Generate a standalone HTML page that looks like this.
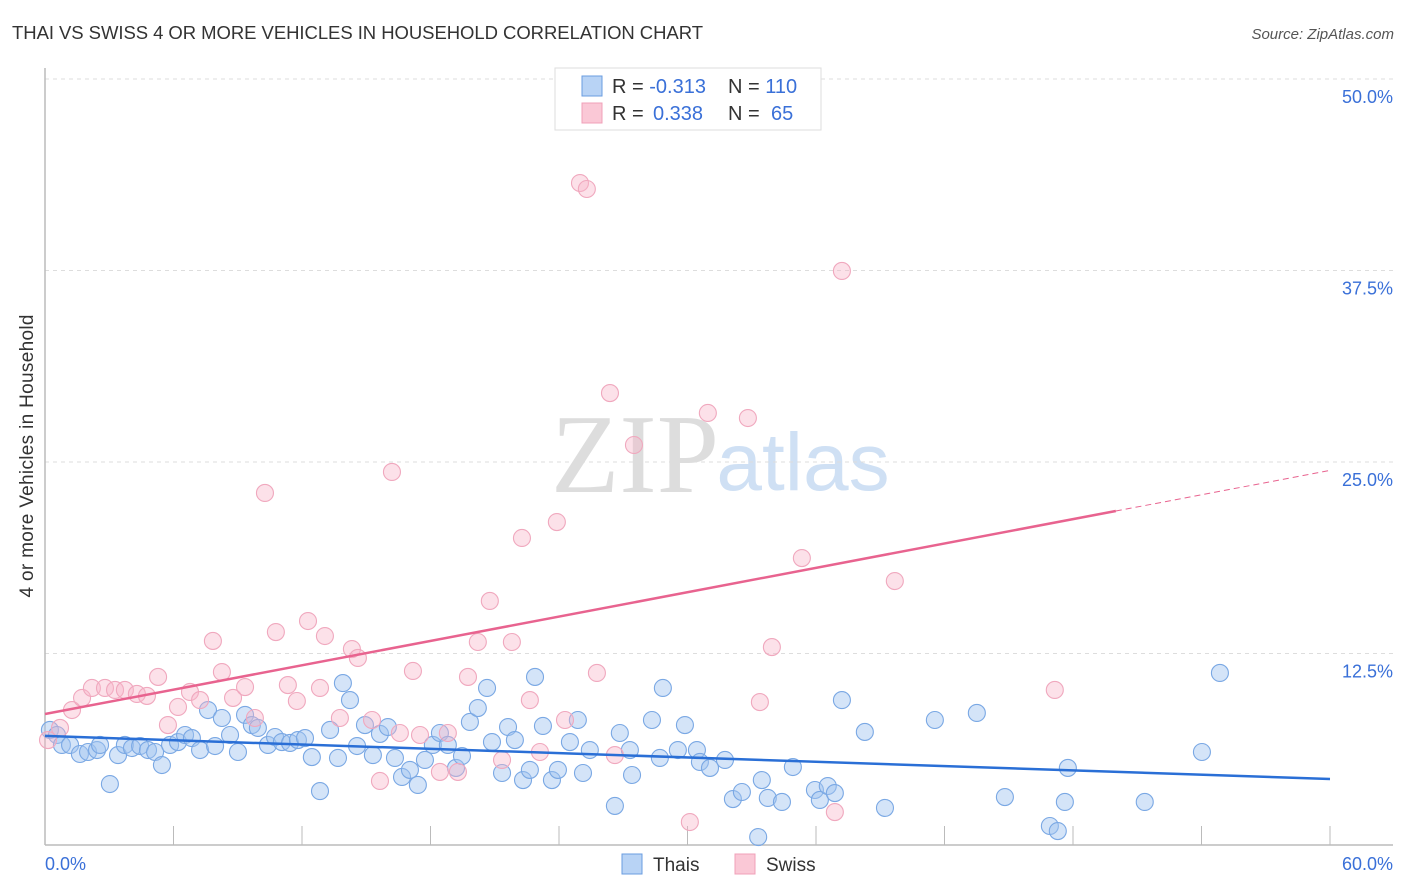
<!DOCTYPE html>
<html><head><meta charset="utf-8"><style>
body{margin:0;background:#fff;font-family:"Liberation Sans",sans-serif}
svg{display:block}
</style></head><body>
<svg id="chart" width="1406" height="892">
<text x="12" y="39" font-size="18.5" fill="#333" textLength="691">THAI VS SWISS 4 OR MORE VEHICLES IN HOUSEHOLD CORRELATION CHART</text>
<text x="1394" y="39" font-size="15" fill="#555" font-style="italic" text-anchor="end">Source: ZipAtlas.com</text>
<g><text x="635" y="492" font-size="112" fill="#ddd" font-family="Liberation Serif" text-anchor="middle">ZIP</text><text x="803" y="490" font-size="82" fill="#cfe0f4" text-anchor="middle">atlas</text></g>
<g id="grid"></g><g id="axes"></g><g id="marks"></g>
<text x="33" y="456" font-size="19" fill="#333" text-anchor="middle" transform="rotate(-90 33 456)" textLength="283">4 or more Vehicles in Household</text>
<text x="45" y="870" font-size="18" fill="#3a70d8">0.0%</text>
<text x="1393" y="870" font-size="18" fill="#3a70d8" text-anchor="end">60.0%</text>
<g>
<rect x="622" y="854" width="20" height="20" fill="#b8d3f5" stroke="#6a9de0"/>
<text x="653" y="871" font-size="19" fill="#333">Thais</text>
<rect x="735" y="854" width="20" height="20" fill="#fac8d6" stroke="#f0a0b8"/>
<text x="766" y="871" font-size="19" fill="#333">Swiss</text>
</g>
<g>
<rect x="555" y="68" width="266" height="62" fill="#fff" stroke="#ddd"/>
<rect x="582" y="76" width="20" height="20" fill="#b8d3f5" stroke="#6a9de0"/>
<rect x="582" y="103" width="20" height="20" fill="#fac8d6" stroke="#f0a0b8"/>
<text x="612" y="93" font-size="20" fill="#333">R = <tspan fill="#3a70d8">-0.313</tspan><tspan x="728">N = </tspan><tspan fill="#3a70d8">110</tspan></text>
<text x="612" y="120" font-size="20" fill="#333">R = <tspan fill="#3a70d8" x="653">0.338</tspan><tspan x="728">N = </tspan><tspan fill="#3a70d8" x="771">65</tspan></text>
</g>
</svg>
<script>
const yTicks=[12.5,25,37.5,50];
const yTickLabels=["12.5%","25.0%","37.5%","50.0%"];
const xTicks=[6,12,18,24,30,36,42,48,54,60];
const thaisX=[0.23,0.56,0.79,1.17,1.63,2.01,2.43,2.57,3.03,3.41,3.73,4.06,4.44,4.81,5.14,5.46,5.84,6.21,6.54,6.86,7.24,7.61,7.94,8.26,8.64,9.01,9.34,9.66,9.94,10.41,10.74,11.06,11.44,11.81,12.14,12.46,12.84,13.31,13.68,13.91,14.24,14.57,14.94,15.31,15.64,16.01,16.34,16.67,17.04,17.41,17.74,18.11,18.44,18.81,19.19,19.47,19.84,20.21,20.64,20.87,21.34,21.62,21.94,22.32,22.64,22.88,23.25,23.67,23.95,24.51,24.88,25.12,25.44,26.61,26.84,27.31,27.41,28.34,28.71,28.85,29.55,29.88,30.44,30.58,31.05,31.75,32.12,32.54,33.47,33.75,34.41,34.92,35.95,36.18,36.55,36.88,37.21,38.28,39.22,41.55,43.51,44.82,46.92,47.29,47.62,47.76,51.35,54.02,54.86,33.3];
const thaisY=[7.51,7.18,6.53,6.53,5.94,6.07,6.20,6.53,3.98,5.87,6.53,6.33,6.46,6.20,6.07,5.22,6.53,6.72,7.18,6.98,6.20,8.81,6.46,8.29,7.18,6.07,8.49,7.83,7.64,6.53,7.05,6.72,6.66,6.85,6.98,5.74,3.52,7.51,5.68,10.57,9.46,6.46,7.83,5.87,7.25,7.70,5.68,4.44,4.90,3.92,5.55,6.53,7.31,6.53,5.03,5.81,8.03,8.94,10.25,6.72,4.70,7.70,6.85,4.24,4.90,10.97,7.77,4.24,4.90,6.72,8.16,4.70,6.20,2.55,7.31,6.20,4.57,8.16,5.68,10.25,6.20,7.83,6.20,5.42,5.03,5.55,3.00,3.46,4.24,3.07,2.81,5.09,3.59,2.94,3.85,3.39,9.46,7.38,2.42,8.16,8.62,3.13,1.24,0.91,2.81,5.03,2.81,6.07,11.23,0.52];
const swissX=[0.14,0.70,1.26,1.73,2.19,2.80,3.27,3.73,4.29,4.76,5.28,5.74,6.21,6.77,7.24,7.84,8.26,8.78,9.34,9.80,10.27,10.78,11.34,11.76,12.28,12.84,13.07,13.77,14.33,14.61,15.27,15.64,16.20,16.57,17.18,17.51,18.44,18.81,19.28,19.75,20.21,20.77,21.34,21.80,22.27,22.64,23.11,23.90,24.28,24.98,25.30,25.77,26.38,26.61,27.50,30.11,30.95,32.82,33.38,33.94,35.34,36.88,37.21,39.68,47.15];
const swissY=[6.85,7.64,8.81,9.60,10.25,10.25,10.12,10.12,9.86,9.73,10.97,7.83,9.01,9.99,9.46,13.32,11.29,9.60,10.31,8.29,22.98,13.90,10.44,9.40,14.62,10.25,13.64,8.29,12.79,12.21,8.16,4.18,24.35,7.31,11.36,7.18,4.77,7.31,4.77,10.97,13.25,15.93,5.55,13.25,20.04,9.46,6.07,21.08,8.16,43.21,42.82,11.23,29.50,5.87,26.11,1.50,28.20,27.87,9.33,12.92,18.73,2.15,37.47,17.23,10.12];
const thaisTrend=[7.12,4.31];
const swissTrend=[8.55,24.45];
const swissSolidEnd=50;
const NS="http://www.w3.org/2000/svg";
const X=v=>45+v/60*1285, Y=v=>845-v/12.5*191.5;
function mk(t,a,p){const e=document.createElementNS(NS,t);for(const k in a)e.setAttribute(k,a[k]);p.appendChild(e);return e;}
const grid=document.getElementById('grid'),axes=document.getElementById('axes'),marks=document.getElementById('marks');
yTicks.forEach((t,i)=>{const l=mk('line',{x1:45,x2:1393,y1:Y(t),y2:Y(t),stroke:'#ddd','stroke-dasharray':'4 4'},grid);


const tx=mk('text',{x:1393,y:Y(t)+24,'font-size':18,fill:'#3a70d8','text-anchor':'end'},grid);tx.textContent=yTickLabels[i];

});
const ax=mk('line',{x1:45,x2:1393,y1:845,y2:845,stroke:'#bbb','stroke-width':1.5},axes);


const ay=mk('line',{x1:45,x2:45,y1:68,y2:845,stroke:'#bbb','stroke-width':1.5},axes);


xTicks.forEach(t=>{const l=mk('line',{x1:X(t),x2:X(t),y1:826,y2:845,stroke:'#bbb'},axes);

});
thaisX.forEach((v,i)=>{const c=mk('circle',{cx:X(v),cy:Y(thaisY[i]),r:8.5,fill:'rgba(160,196,240,0.45)',stroke:'#7aa8e4','stroke-width':1.1},marks);

});
swissX.forEach((v,i)=>{const c=mk('circle',{cx:X(v),cy:Y(swissY[i]),r:8.5,fill:'rgba(248,180,200,0.4)',stroke:'#f0a8be','stroke-width':1.1},marks);

});
const sy=x=>swissTrend[0]+(swissTrend[1]-swissTrend[0])*x/60;
const t1=mk('line',{x1:X(0),y1:Y(thaisTrend[0]),x2:X(60),y2:Y(thaisTrend[1]),stroke:'#2a6fd6','stroke-width':2.5},marks);


const t2=mk('line',{x1:X(0),y1:Y(sy(0)),x2:X(swissSolidEnd),y2:Y(sy(swissSolidEnd)),stroke:'#e8638f','stroke-width':2.5},marks);


const t3=mk('line',{x1:X(swissSolidEnd),y1:Y(sy(swissSolidEnd)),x2:X(60),y2:Y(sy(60)),stroke:'#e8638f','stroke-width':1,'stroke-dasharray':'6 4'},marks);


</script>
</body></html>
